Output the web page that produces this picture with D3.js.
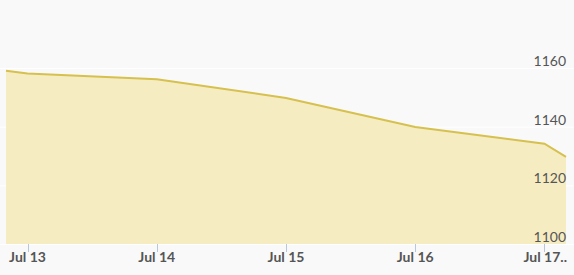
<!DOCTYPE html>
<html><head><meta charset="utf-8">
<script src="https://cdn.jsdelivr.net/npm/d3@7"></script>
<style>
html,body{margin:0;padding:0;background:#f9f9f9;}
svg{display:block;font-family:Lato, sans-serif;}
</style></head><body>
<svg id="c" width="574" height="275"></svg>
<script>
const times = ["2017-07-12T20:00","2017-07-13T00:00","2017-07-14T00:00","2017-07-15T00:00","2017-07-16T00:00","2017-07-17T00:00","2017-07-17T04:00"];
const values = [1159.1, 1158.1, 1156.2, 1149.8, 1139.9, 1134.2, 1129.7];
const yTicks = [1100, 1120, 1140, 1160];
const xTickDates = ["2017-07-13","2017-07-14","2017-07-15","2017-07-16","2017-07-17"];
const xTickLabels = ["Jul 13","Jul 14","Jul 15","Jul 16","Jul 17.."];

const parse = d3.timeParse("%Y-%m-%dT%H:%M");
const parseD = d3.timeParse("%Y-%m-%d");
const data = times.map((t,i)=>({t:parse(t), v:values[i]}));

const svg = d3.select("#c");
const W=574, H=275;
const mL=6, mR=566, mT=68, mB=244;
const x = d3.scaleTime().domain(d3.extent(data,d=>d.t)).range([mL,mR]);
const y = d3.scaleLinear().domain([1100,1160]).range([mB,mT]);

// grid
svg.append("g").selectAll("line").data(yTicks).join("line")
  .attr("x1",0).attr("x2",W).attr("y1",d=>y(d)+0.5).attr("y2",d=>y(d)+0.5)
  .attr("stroke","#ffffff").attr("stroke-width",1);

const area = d3.area().x(d=>x(d.t)).y0(mB).y1(d=>y(d.v));
const line = d3.line().x(d=>x(d.t)).y(d=>y(d.v));
svg.append("path").datum(data).attr("d",area).attr("fill","#f5ecc2");
svg.append("path").datum(data).attr("d",line).attr("fill","none").attr("stroke","#d6c04e").attr("stroke-width",2);

// y labels
svg.append("g").selectAll("text").data(yTicks).join("text")
  .attr("x",566).attr("y",d=>y(d)-2).attr("text-anchor","end")
  .attr("font-size",14).attr("fill","#555").text(d=>d);

// x ticks
const xt = xTickDates.map(parseD);
svg.append("g").selectAll("line").data(xt).join("line")
  .attr("x1",d=>Math.round(x(d))+0.5).attr("x2",d=>Math.round(x(d))+0.5)
  .attr("y1",mB).attr("y2",mB+8).attr("stroke","#b8c8dc").attr("stroke-width",1);
svg.append("g").selectAll("text").data(xt).join("text")
  .attr("x",(d,i)=> i===xt.length-1 ? 567 : x(d))
  .attr("y",262)
  .attr("text-anchor",(d,i)=> i===xt.length-1 ? "end" : "middle")
  .attr("font-size",14).attr("font-weight","bold").attr("fill","#555")
  .text((d,i)=>xTickLabels[i]);
</script>
</body></html>
